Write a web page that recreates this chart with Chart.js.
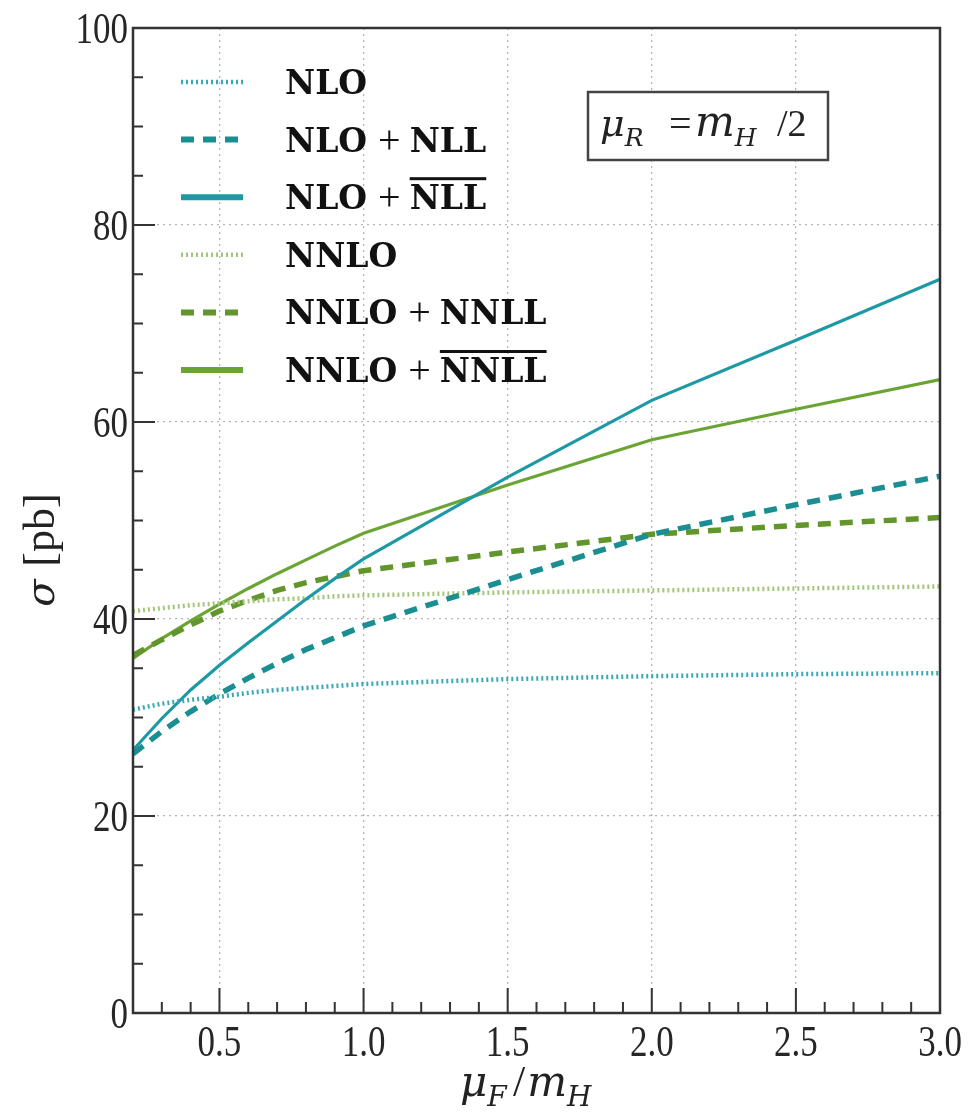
<!DOCTYPE html>
<html><head><meta charset="utf-8">
<script src="https://cdn.jsdelivr.net/npm/chart.js@4.4.1/dist/chart.umd.min.js"></script>
<style>html,body{margin:0;padding:0;background:#fff;}#wrap{width:971px;height:1113px;position:relative;}</style>
</head><body><div id="wrap"><canvas id="c" width="971" height="1113"></canvas></div>
<script>
// ---- data ----
const xValues = [0.2, 0.3, 0.4, 0.5, 0.6, 0.7, 0.8, 0.9, 1.0, 1.5, 2.0, 2.5, 3.0];
const nlo      = [30.8, 31.4, 31.8, 32.1, 32.5, 32.8, 33.0, 33.2, 33.4, 33.9, 34.2, 34.4, 34.5];
const nloNll   = [26.3, 28.6, 30.6, 32.4, 34.0, 35.5, 36.9, 38.1, 39.3, 44.0, 48.6, 51.6, 54.5];
const nloNllB  = [26.7, 29.9, 32.8, 35.3, 37.6, 39.8, 42.0, 44.1, 46.1, 54.4, 62.2, 68.3, 74.5];
const nnlo     = [40.8, 41.1, 41.4, 41.6, 41.8, 42.0, 42.1, 42.3, 42.4, 42.7, 42.9, 43.1, 43.3];
const nnloNnll = [36.3, 37.9, 39.4, 40.8, 41.9, 42.9, 43.7, 44.3, 44.9, 46.8, 48.6, 49.5, 50.3];
const nnloNnllB= [36.0, 38.0, 39.8, 41.5, 43.1, 44.6, 46.0, 47.4, 48.7, 53.6, 58.2, 61.3, 64.3];

const seriesMain = ['NLO', 'NLO', 'NLO', 'NNLO', 'NNLO', 'NNLO'];
const seriesAdd  = [null, 'NLL', 'NLL', null, 'NNLL', 'NNLL'];
const seriesBar  = [false, false, true, false, false, true];

const xTicks = [0.5, 1.0, 1.5, 2.0, 2.5, 3.0];
const xTickLabels = ['0.5', '1.0', '1.5', '2.0', '2.5', '3.0'];
const yTicks = [0, 20, 40, 60, 80, 100];
const yTickLabels = ['0', '20', '40', '60', '80', '100'];

const SERIF = '"Liberation Serif", serif';
const BOLD = '"DejaVu Serif", serif';
const MATH = '"DejaVu Serif", serif';

const styles = [
  {c:'#3aa9b4', w:4.5, d:[2,3], lw:4.5},
  {c:'#1b8e92', w:5.5, d:[13,9], lw:6},
  {c:'#1d99a5', w:3.2, d:[], lw:6},
  {c:'#a3c77a', w:4.5, d:[2,3], lw:4.5},
  {c:'#62952c', w:5.5, d:[13,9], lw:6},
  {c:'#6aa534', w:3.2, d:[], lw:6}
];
const allSeries = [nlo, nloNll, nloNllB, nnlo, nnloNnll, nnloNnllB];

const datasets = allSeries.map((arr, i) => ({
  label: seriesMain[i] + (seriesAdd[i] ? ' + ' + seriesAdd[i] : ''),
  data: xValues.map((x, k) => ({x: x, y: arr[k]})),
  borderColor: styles[i].c,
  borderWidth: styles[i].w,
  borderDash: styles[i].d,
  pointRadius: 0,
  tension: 0,
  fill: false
}));

const decor = {
  id: 'decor',
  afterDatasetsDraw(chart) {
    const ctx = chart.ctx;
    const a = chart.chartArea;
    const xs = chart.scales.x, ys = chart.scales.y;
    ctx.save();
    // frame
    ctx.strokeStyle = '#333';
    ctx.lineWidth = 2.5;
    ctx.setLineDash([]);
    ctx.strokeRect(a.left, a.top, a.right - a.left, a.bottom - a.top);
    // ticks
    ctx.lineWidth = 2;
    ctx.beginPath();
    for (let v = 3; v <= 29; v++) {
      const px = xs.getPixelForValue(v / 10);
      const len = (v % 5 === 0) ? 25 : 11;
      ctx.moveTo(px, a.bottom); ctx.lineTo(px, a.bottom - len);
    }
    for (let v = 5; v < 100; v += 5) {
      const py = ys.getPixelForValue(v);
      const len = (v % 20 === 0) ? 22 : 10;
      ctx.moveTo(a.left, py); ctx.lineTo(a.left + len, py);
    }
    ctx.stroke();

    // tick labels (vertically stretched like the reference)
    ctx.fillStyle = '#262626';
    ctx.font = '35px ' + SERIF;
    ctx.textBaseline = 'alphabetic';
    xTicks.forEach((v, i) => {
      ctx.save();
      ctx.translate(xs.getPixelForValue(v), 1056);
      ctx.scale(1, 1.28);
      ctx.textAlign = 'center';
      ctx.fillText(xTickLabels[i], 0, 0);
      ctx.restore();
    });
    yTicks.forEach((v, i) => {
      ctx.save();
      ctx.translate(128, ys.getPixelForValue(v) + 14.5);
      ctx.scale(1, 1.28);
      ctx.textAlign = 'right';
      ctx.fillText(yTickLabels[i], 0, 0);
      ctx.restore();
    });
    ctx.textAlign = 'left';

    // legend
    const row0 = 82, step = 57.6;
    datasets.forEach((ds, i) => {
      const y = row0 + i * step;
      ctx.strokeStyle = ds.borderColor;
      ctx.lineWidth = styles[i].lw;
      ctx.setLineDash(ds.borderDash);
      ctx.beginPath();
      ctx.moveTo(181, y); ctx.lineTo(243, y);
      ctx.stroke();
      ctx.setLineDash([]);
      ctx.fillStyle = '#111';
      const base = y + 12;
      let x = 285;
      ctx.font = 'bold 33px ' + BOLD;
      ctx.fillText(seriesMain[i], x, base);
      x += ctx.measureText(seriesMain[i]).width;
      if (seriesAdd[i]) {
        ctx.font = '40px ' + SERIF;
        const pw = ctx.measureText('+').width;
        ctx.fillText('+', x + 11, base + 1);
        x += pw + 20;
        ctx.font = 'bold 33px ' + BOLD;
        const w = ctx.measureText(seriesAdd[i]).width;
        ctx.fillText(seriesAdd[i], x, base);
        if (seriesBar[i]) ctx.fillRect(x, base - 32, w, 3);
      }
    });

    // scale box
    ctx.strokeStyle = '#444';
    ctx.lineWidth = 2.5;
    ctx.fillStyle = '#fff';
    ctx.fillRect(588, 92, 240, 68);
    ctx.strokeRect(588, 92, 240, 68);
    ctx.fillStyle = '#222';
    const put = (t, font, x, y) => { ctx.font = font; ctx.fillText(t, x, y); return x + ctx.measureText(t).width; };
    let e = put('\u03bc', 'italic 38px ' + MATH, 600, 136);
    put('R', 'italic 25px ' + MATH, e, 146);
    put('=', '40px ' + SERIF, 669, 137);
    e = put('m', 'italic 42px ' + MATH, 695, 136);
    put('H', 'italic 25px ' + MATH, e, 146);
    put('/2', '38px ' + SERIF, 777, 136);

    // x title
    e = put('\u03bc', 'italic 42px ' + MATH, 460, 1096);
    put('F', 'italic 28px ' + MATH, e, 1106);
    e = put('/', '44px ' + SERIF, 513, 1096);
    e = put('m', 'italic 42px ' + MATH, e + 2, 1096);
    put('H', 'italic 28px ' + MATH, e, 1106);

    // y title
    ctx.translate(54, 550);
    ctx.rotate(-Math.PI / 2);
    const yt = [['\u03c3 ','italic 40px ' + MATH],['[pb]','44px ' + SERIF]];
    let tw = 0;
    yt.forEach(p => { ctx.font = p[1]; tw += ctx.measureText(p[0]).width; });
    let bx = -tw / 2;
    yt.forEach(p => { ctx.font = p[1]; ctx.fillText(p[0], bx, 0); bx += ctx.measureText(p[0]).width; });
    ctx.restore();
  }
};

new Chart(document.getElementById('c'), {
  type: 'line',
  data: { datasets: datasets },
  options: {
    responsive: false,
    animation: false,
    devicePixelRatio: 1,
    layout: { padding: { top: 28, right: 31, left: 0, bottom: 0 } },
    plugins: { legend: { display: false }, tooltip: { enabled: false } },
    scales: {
      x: {
        type: 'linear', min: 0.2, max: 3.0,
        afterBuildTicks: s => { s.ticks = xTicks.map(v => ({value: v})); },
        afterFit: s => { s.height = 100; },
        grid: { color: '#b5b5b5', lineWidth: 1.3, drawTicks: false },
        border: { display: false, dash: [2, 4] },
        ticks: { display: false }
      },
      y: {
        type: 'linear', min: 0, max: 100,
        afterBuildTicks: s => { s.ticks = yTicks.map(v => ({value: v})); },
        afterFit: s => { s.width = 133; },
        grid: { color: '#b5b5b5', lineWidth: 1.3, drawTicks: false },
        border: { display: false, dash: [2, 4] },
        ticks: { display: false }
      }
    }
  },
  plugins: [decor]
});
</script></body></html>
